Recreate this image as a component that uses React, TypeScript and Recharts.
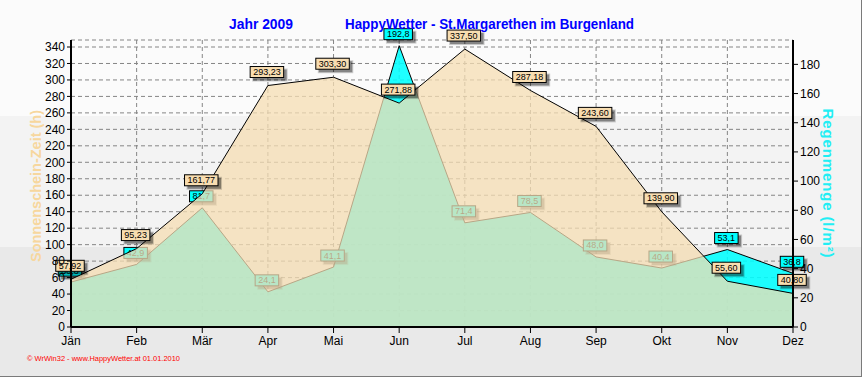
import React from 'react'
import { AreaChart, Area, XAxis, YAxis, CartesianGrid, LabelList } from 'recharts'

const months = ['Jän', 'Feb', 'Mär', 'Apr', 'Mai', 'Jun', 'Jul', 'Aug', 'Sep', 'Okt', 'Nov', 'Dez']
const sunHours = [57.92, 95.23, 161.77, 293.23, 303.3, 271.88, 337.5, 287.18, 243.6, 139.9, 55.6, 40.8]
const rainMm = [30.8, 42.9, 81.7, 24.1, 41.1, 192.8, 71.4, 78.5, 48.0, 40.4, 53.1, 36.8]
const sunTicks = [0, 20, 40, 60, 80, 100, 120, 140, 160, 180, 200, 220, 240, 260, 280, 300, 320, 340]
const rainTicks = [0, 20, 40, 60, 80, 100, 120, 140, 160, 180]

const data = months.map((m, i) => ({ month: m, i, sun: sunHours[i], rain: rainMm[i] }))

// minor tick positions (axis config only)
const minorX = months.slice(1).flatMap((_, i) => [i + 0.25, i + 0.5, i + 0.75])
const minorSun: number[] = []
for (let v = 5; v < 348; v += 5) if (v % 20) minorSun.push(v)
const minorRain: number[] = []
for (let v = 5; v < 196; v += 5) if (v % 20) minorRain.push(v)

const FONT = '"Liberation Sans", Arial, sans-serif'

const fmt = (v: number, d: number) => v.toFixed(d).replace('.', ',')

function ValueBox({ x, y, text, fill, gap }: { x: number; y: number; text: string; fill: string; gap: number }) {
  const digits = text.replace(',', '').length
  const w = digits * 5 + 2.5 + 6
  const h = 11
  const bx = x - 1 - w / 2
  const by = y - gap - h
  return (
    <g>
      <rect x={bx + 2} y={by + 2} width={w + 2} height={h + 2} fill="#000" opacity={0.18} />
      <rect x={bx + 3} y={by + 3} width={w} height={h} fill="#000" opacity={0.35} />
      <rect x={bx} y={by} width={w} height={h} fill={fill} stroke="#000" strokeWidth={1} />
      <text x={bx + w / 2} y={by + h - 2.5} textAnchor="middle" fontSize={9} fontFamily={FONT} fill="#000">
        {text}
      </text>
    </g>
  )
}

const sunLabel = (p: any) => <ValueBox x={p.x} y={p.y} text={fmt(p.value, 2)} fill="#F8DDB0" gap={8} />
const rainLabel = (p: any) => <ValueBox x={p.x} y={p.y} text={fmt(p.value, 1)} fill="#00FFFF" gap={6} />

const tickStyle = { fontSize: 12, fontFamily: FONT, fill: '#000' }

export default function App() {
  return (
    <div style={{ position: 'absolute', left: 0, top: 0, width: 864, height: 378, background: '#fff' }}>
      <div
        style={{
          position: 'absolute', left: 0, top: 0, width: 861, height: 376,
          borderRight: '1px solid #7a7a7a', borderBottom: '1px solid #7a7a7a',
          background: 'linear-gradient(to bottom, #fbfbfb 0px, #fbfbfb 116px, #f3f3f3 116px, #f3f3f3 247px, #e9e9e9 247px)',
        }}
      />
      <div style={{ position: 'absolute', left: 0, top: 0 }}>
        <AreaChart width={864} height={378} data={data} margin={{ top: 40, right: 0, bottom: 21, left: 0 }}>
          <XAxis xAxisId="minorX" dataKey="i" type="number" domain={[0, 11]} ticks={minorX} tick={false}
            tickLine={{ stroke: '#000' }} tickSize={3} axisLine={false} height={0} />
          <XAxis xAxisId="main" dataKey="month" height={30} tick={tickStyle} tickSize={6} tickMargin={3}
            axisLine={{ stroke: '#000', strokeWidth: 2 }} tickLine={{ stroke: '#000' }} interval={0} />
          <XAxis xAxisId="top" dataKey="month" orientation="top" height={0} tick={false} tickLine={false}
            axisLine={{ stroke: '#000', strokeWidth: 1 }} />
          <YAxis yAxisId="minorL" orientation="left" domain={[0, 348.5]} ticks={minorSun} tick={false}
            tickLine={{ stroke: '#000' }} tickSize={2} axisLine={false} width={0} allowDataOverflow />
          <YAxis yAxisId="sunAxis" orientation="left" domain={[0, 348.5]} ticks={sunTicks} width={71}
            tick={tickStyle} tickSize={4} tickMargin={2} axisLine={{ stroke: '#000', strokeWidth: 2 }}
            tickLine={{ stroke: '#000' }} allowDataOverflow interval={0} />
          <YAxis yAxisId="minorR" orientation="right" domain={[0, 196.7]} ticks={minorRain} tick={false}
            tickLine={{ stroke: '#000' }} tickSize={3} axisLine={false} width={0} allowDataOverflow />
          <YAxis yAxisId="rainAxis" orientation="right" domain={[0, 196.7]} ticks={rainTicks} width={71}
            tick={tickStyle} tickSize={5} tickMargin={2} axisLine={{ stroke: '#000', strokeWidth: 2 }}
            tickLine={{ stroke: '#000' }} allowDataOverflow interval={0} />
          <CartesianGrid xAxisId="main" yAxisId="sunAxis" stroke="#858585" strokeDasharray="4 3" />
          <Area xAxisId="main" yAxisId="rainAxis" type="linear" dataKey="rain" stroke="#000" strokeWidth={1}
            fill="#00FFFF" fillOpacity={0.88} isAnimationActive={false} dot={false} activeDot={false} zIndex={100}>
            <LabelList dataKey="rain" content={rainLabel} zIndex={150} />
          </Area>
          <Area xAxisId="main" yAxisId="sunAxis" type="linear" dataKey="sun" stroke="#000" strokeWidth={1}
            fill="#F5DEB3" fillOpacity={0.75} isAnimationActive={false} dot={false} activeDot={false} zIndex={200}>
            <LabelList dataKey="sun" content={sunLabel} zIndex={300} />
          </Area>
        </AreaChart>
      </div>
      <svg width={864} height={378} style={{ position: 'absolute', left: 0, top: 0, pointerEvents: 'none' }}>
        <text x={229} y={29} fontSize={14} fontWeight="bold" fontFamily={FONT} fill="#0000FF"
          textLength={64} lengthAdjust="spacingAndGlyphs">Jahr  2009</text>
        <text x={345} y={29} fontSize={14} fontWeight="bold" fontFamily={FONT} fill="#0000FF"
          textLength={289} lengthAdjust="spacingAndGlyphs">HappyWetter - St.Margarethen im Burgenland</text>
        <text transform="translate(41,186) rotate(-90)" textAnchor="middle" fontSize={15} fontWeight="bold"
          fontFamily={FONT} fill="#F7D79E" textLength={152} lengthAdjust="spacingAndGlyphs">Sonnenschein-Zeit  (h)</text>
        <text transform="translate(823,183) rotate(90)" textAnchor="middle" fontSize={15} fontWeight="bold"
          fontFamily={FONT} fill="#22EEF4" textLength={149} lengthAdjust="spacing">Regenmenge  (l/m²)</text>
        <text x={27} y={361} fontSize={8} fontFamily={FONT} fill="#FF0000" textLength={153}
          lengthAdjust="spacingAndGlyphs">© WrWin32 - www.HappyWetter.at  01.01.2010</text>
      </svg>
    </div>
  )
}
